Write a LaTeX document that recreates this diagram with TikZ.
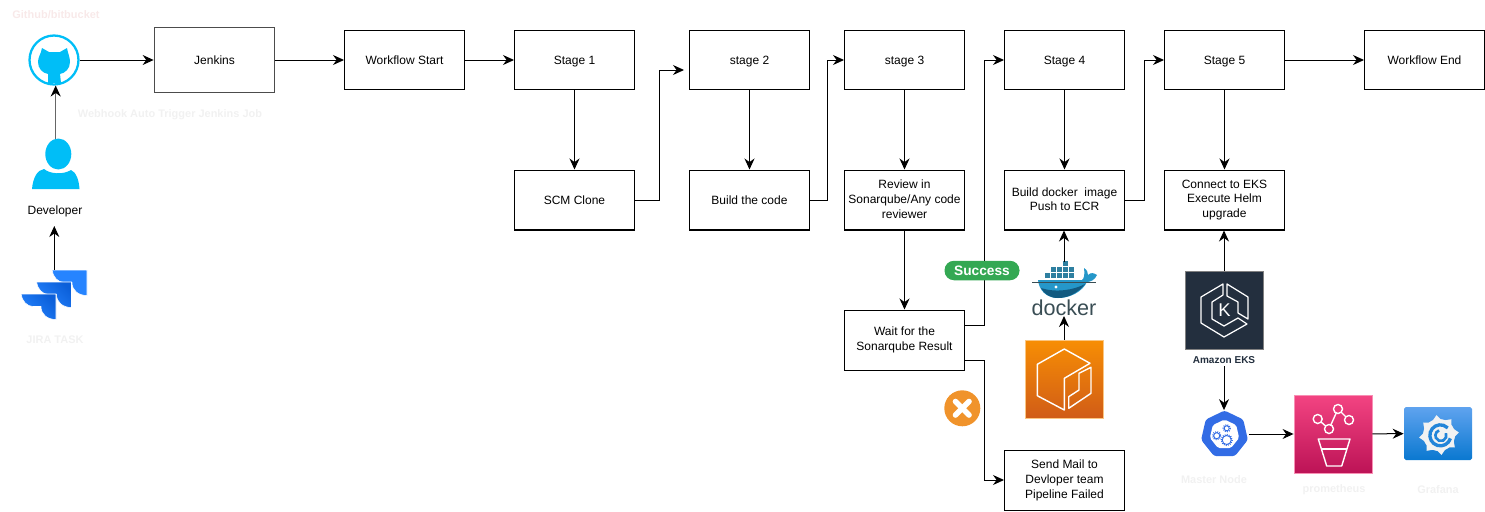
\documentclass[tikz,border=0pt]{standalone}
\usepackage{fontspec}
\setmainfont{Liberation Sans}
\usetikzlibrary{arrows.meta, shapes.geometric}
\definecolor{gitblue}{HTML}{00BEF7}
\definecolor{jirablue}{HTML}{2684FF}
\definecolor{jiradark}{HTML}{0B5FD9}
\definecolor{ghosttext}{HTML}{F1F1F1}
\definecolor{ghostpink}{HTML}{F8E9E9}
\definecolor{kubeblue}{HTML}{326CE5}
\definecolor{whaleblue}{HTML}{2597C9}
\definecolor{whaledark}{HTML}{125A80}
\definecolor{crate}{HTML}{2E7FA0}
\definecolor{dockertext}{HTML}{394D54}
\definecolor{awsink}{HTML}{232F3E}
\definecolor{orangetop}{HTML}{F78E04}
\definecolor{orangebot}{HTML}{D05C17}
\definecolor{pinktop}{HTML}{F34482}
\definecolor{pinkbot}{HTML}{BC1356}
\definecolor{gratop}{HTML}{5FA3EF}
\definecolor{grabot}{HTML}{0A78D0}
\definecolor{okgreen}{HTML}{34A853}
\definecolor{failorange}{HTML}{F0932B}
\tikzset{
  >={Stealth[length=2.2mm,width=2mm]},
  box/.style={draw, line width=0.57pt, minimum width=2.4cm, minimum height=1.2cm, align=center, font=\fontsize{6.83}{8.5}\selectfont, inner sep=0pt,
    execute at begin node={\rule[-1pt]{0pt}{7.6pt}}, execute at end node={\rule[-1pt]{0pt}{7.6pt}}},
  ghost/.style={text=ghosttext, font=\fontsize{6.25}{8.5}\selectfont\bfseries, inner sep=0pt},
  icon/.style={minimum size=1.56cm, inner sep=0pt, line width=0.5pt},
  conn/.style={line width=0.57pt},
}
\begin{document}
\begin{tikzpicture}[x=0.02cm, y=-0.02cm]
\useasboundingbox (0,0) rectangle (1485,511);

% top row
\node [box, minimum height=1.3cm, draw=black!70, line width=1pt] (jenkins) at (214.5,60) {Jenkins};
\node [box] (wfstart) at (404.5,60) {Workflow Start};
\node [box] (stage1) at (574.5,60) {Stage 1};
\node [box] (stage2) at (749.5,60) {stage 2};
\node [box] (stage3) at (904.5,60) {stage 3};
\node [box] (stage4) at (1064.5,60) {Stage 4};
\node [box] (stage5) at (1224.5,60) {Stage 5};
\node [box] (wfend) at (1424.5,60) {Workflow End};

% second row
\node [box] (scmclone) at (574.5,200) {SCM Clone};
\node [box] (buildcode) at (749.5,200) {Build the code};
\node [box] (review) at (904.5,200) {Review in\\Sonarqube/Any code\\reviewer};
\node [box] (builddocker) at (1064.5,200) {Build docker\ \ image\\Push to ECR};
\node [box] (connecteks) at (1224.5,200) {Connect to EKS\\Execute Helm\\upgrade};
\node [box] (waitresult) at (904.5,340) {Wait for the\\Sonarqube Result};
\node [box] (sendmail) at (1064.5,480) {Send Mail to\\Devloper team\\Pipeline Failed};

% github
\node [circle, draw=gitblue, line width=1.3pt, minimum size=0.98cm, inner sep=0pt] (github) at (54,60) {};
\fill [gitblue] (42,48) -- (49,52) -- (60,52) -- (67,48) .. controls (68,54) and (70,57) .. (70,62) .. controls (70,69) and (65,73) .. (60,74) -- (61,83) -- (48,83) -- (48,74) .. controls (42,73) and (38,68) .. (38,62) .. controls (38,57) and (41,54) .. (42,48) -- cycle;
\node [text=ghostpink, font=\fontsize{6.25}{8.5}\selectfont\bfseries, inner sep=0pt] (githublabel) at (56,15) {Github/bitbucket};
\node [ghost] (webhook) at (170,115) {Webhook Auto Trigger Jenkins Job};

% developer
\node [ellipse, fill=gitblue, minimum width=0.52cm, minimum height=0.62cm, inner sep=0pt] (devhead) at (58.3,154) {};
\fill [gitblue] (32,189) .. controls (33,178) and (37,170) .. (44,169) .. controls (50,174) and (63,175) .. (71,170) .. controls (76,172) and (79,180) .. (79.5,189) -- cycle;
\node [font=\fontsize{6.83}{8.5}\selectfont, inner sep=0pt] (developer) at (55,211) {Developer};

% jira
\foreach \tx/\ty/\tdark in {52/270/jirablue, 36.5/282/jiradark, 21/294/jiradark}
  \shade [shift={(\tx,\ty)}, draw=white, line width=0.3pt, top color=\tdark, bottom color=jirablue, shading angle=-45]
    (0,0) -- (35,0) -- (35,25.5) .. controls (26,25.5) and (20,20) .. (20,12.5) -- (12,12.5) .. controls (6,12.5) and (1,7) .. (0,0) -- cycle;
\node [ghost] (jiralabel) at (55,339.5) {JIRA TASK};

% docker
\foreach \cx/\cy in {1062.5/260.5, 1050.5/266, 1056.5/266, 1062.5/266, 1068.5/266, 1044.5/272, 1050.5/272, 1056.5/272, 1062.5/272, 1068.5/272}
  \draw [draw=white, fill=crate, line width=0.2pt] (\cx,\cy) rectangle ++(6,6);
\fill [whaleblue] (1038,280) -- (1082,280) .. controls (1084,279) and (1085,274) .. (1084,268) .. controls (1087,270) and (1088,272) .. (1088,275) .. controls (1091,272) and (1094,273) .. (1097,275) .. controls (1095,280) and (1090,282) .. (1087,282) .. controls (1082,292) and (1070,298) .. (1058,298) .. controls (1046,298) and (1039,290) .. (1038,280) -- cycle;
\fill [whaledark] (1041,288) .. controls (1056,293) and (1074,290) .. (1085,284) .. controls (1078,293) and (1068,298) .. (1058,298) .. controls (1050,298) and (1044,294) .. (1041,288) -- cycle;
\fill [white] (1056,287) circle (1.6);
\draw [dockertext, line width=0.3pt] (1032,282) -- (1096,282);
\node [text=dockertext, font=\fontsize{12.3}{14}\selectfont, inner sep=0pt, minimum height=0.34cm] (docker) at (1064,307.5) {docker};
\coordinate (dockertop) at (1064,262);
\coordinate (dockerbottom) at (1064,316);

% package icon
\node [icon, draw=orangetop!50, top color=orangetop, bottom color=orangebot] (package) at (1064,379) {};
\draw [white, line width=0.8pt, line join=round] (1064.3,349) -- (1090,363.3) -- (1064.3,378.3) -- (1064.3,410) -- (1037.3,395.7) -- (1037.3,364.3) -- cycle;
\draw [white, line width=0.8pt, line join=round] (1068.7,408.3) -- (1068.7,396.7) -- (1079,390) -- (1079,373.3) -- (1091,367.3) -- (1091,393.3) -- cycle;

% eks icon
\node [icon, fill=awsink, draw=black!50] (eks) at (1224,310) {};
\draw [white, line width=0.7pt, line join=round] (1223,284) -- (1201,297) -- (1201,323) -- (1224,337) -- (1247,324) -- (1238,318) -- (1224,326) -- (1212,319) -- (1212,302) -- (1223,295) -- cycle;
\draw [white, line width=0.7pt, line join=round] (1227,284) -- (1248,297) -- (1248,319) -- (1238,313) -- (1238,302) -- (1227,296) -- cycle;
\node [text=white, font=\fontsize{10.5}{12}\selectfont, inner sep=0pt] (ekskey) at (1224.5,310) {K};
\node [text=awsink, font=\fontsize{5.7}{6.5}\selectfont\bfseries, inner sep=1pt] (ekslabel) at (1224,360.5) {Amazon EKS};

% master node
\node [regular polygon, regular polygon sides=7, fill=kubeblue, rounded corners=1.5pt, minimum size=0.96cm, inner sep=0pt] (masternode) at (1224.5,434.5) {};
\node [regular polygon, regular polygon sides=7, fill=white, rounded corners=1pt, minimum size=0.6cm, inner sep=0pt] (masterinner) at (1224.5,434.5) {};
\foreach \gx/\gy/\gr in {1216.7/435.7/3, 1226.7/428.3/2.5, 1226.7/440/4.5} {
  \draw [kubeblue, line width=0.5pt] (\gx,\gy) circle (\gr);
  \draw [kubeblue, line width=0.8pt, dash pattern=on 0.5pt off 0.7pt] (\gx,\gy) circle (\gr+1);
}
\node [ghost] (masterlabel) at (1214,479.5) {Master Node};

% prometheus
\node [icon, draw=pinktop!60, top color=pinktop, bottom color=pinkbot] (prometheus) at (1333,434) {};
\draw [white, line width=0.8pt] (1317.7,419) -- (1329,429) -- (1338,409) -- (1349,420);
\foreach \px/\py/\pf in {1317.7/419/34, 1329/429/42, 1338/409/18, 1349/420/34}
  \draw [white, line width=0.8pt, fill=pinkbot!\pf!pinktop] (\px,\py) circle (4.5);
\draw [white, line width=0.8pt, line join=round] (1318.3,439) -- (1350,439) -- (1341.7,466) -- (1326.7,466) -- cycle;
\draw [white, line width=0.8pt] (1321.7,449) -- (1346.7,449);
\node [ghost] (promlabel) at (1334,490) {prometheus};

% grafana
\node [rounded corners=1pt, minimum width=1.36cm, minimum height=1.06cm, inner sep=0pt, top color=gratop, bottom color=grabot] (grafana) at (1438,433.5) {};
\fill [black!5] (1439,435) circle (16);
\foreach \ga in {10,55,...,325}
  \fill [black!5, shift={(1439,435)}, rotate=\ga] (-6,-13) -- (1,-20) -- (6,-13) -- cycle;
\draw [grabot!70!gratop, line width=1.9pt] (1450.4,438.4) arc (17:315:10.5);
\draw [grabot!70!gratop, line width=1.5pt] (1445.9,433.2) arc (-25:250:5.5);
\node [ghost] (grafanalabel) at (1438,490) {Grafana};

% connectors
\coordinate (devtop) at (55.7,139);
\coordinate (githubin) at (55.7,85.5);
\coordinate (jiratop) at (54.3,270);
\coordinate (devin) at (54.3,226);
\coordinate (stage2in) at (684,70);
\coordinate (waitup) at (964.5,325);
\coordinate (waitdown) at (964.5,360);
\draw [conn, ->] (jiratop) -- (devin);
\draw [line width=0.85pt, draw=black!60, -{Stealth[length=2.2mm,width=2mm,black]}] (devtop) -- (githubin);
\draw [conn, ->] (github) -- (jenkins);
\draw [conn, ->] (jenkins) -- (wfstart);
\draw [conn, ->] (wfstart) -- (stage1);
\draw [conn, ->] (stage1) -- (scmclone);
\draw [conn, ->] (scmclone.east) -- ++(25,0) |- (stage2in);
\draw [conn, ->] (stage2) -- (buildcode);
\draw [conn, ->] (buildcode.east) -- ++(18,0) |- (stage3.west);
\draw [conn, ->] (stage3) -- (review);
\draw [conn, ->] (review) -- (waitresult);
\draw [conn, ->] (waitup) -- ++(20,0) |- (stage4.west);
\draw [conn, ->] (waitdown) -- ++(20,0) |- (sendmail.west);
\draw [conn, ->] (stage4) -- (builddocker);
\draw [conn, ->] (dockertop) -- (builddocker.south -| dockertop);
\draw [conn, ->] (package.north) -- (dockerbottom);
\draw [conn, ->] (builddocker.east) -- ++(20,0) |- (stage5.west);
\draw [conn, ->] (stage5) -- (connecteks);
\draw [conn, ->] (eks.north) -- (connecteks.south -| eks.north);
\draw [conn, ->] (ekslabel) -- (masternode.north -| ekslabel);
\draw [conn, ->, shorten <=1pt] (masternode.east |- prometheus.west) -- (prometheus.west);
\draw [conn, ->] (prometheus) -- (grafana);
\draw [conn, ->] (stage5) -- (wfend);

% status marks
\node [fill=okgreen, text=white, rounded corners=0.19cm, minimum width=1.5cm, minimum height=0.39cm, inner sep=0pt, font=\fontsize{7.8}{8.5}\selectfont\bfseries] (success) at (982,270.5) {Success};
\node [circle, fill=failorange, minimum size=0.72cm, inner sep=0pt] (failmark) at (962.3,408.3) {};
\draw [white, line width=3.2pt, line cap=round] (955.5,401.5) -- (969,415);
\draw [white, line width=3.2pt, line cap=round] (969,401.5) -- (955.5,415);
\end{tikzpicture}
\end{document}
